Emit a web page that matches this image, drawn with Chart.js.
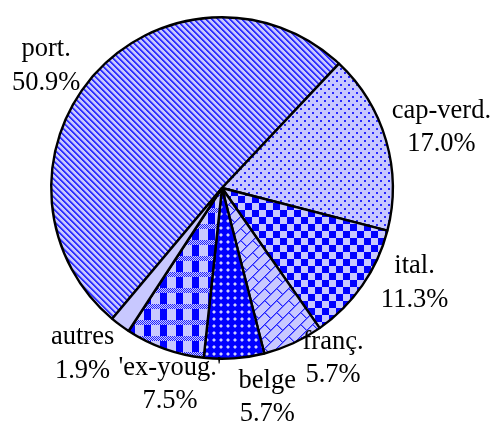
<!DOCTYPE html>
<html>
<head>
<meta charset="utf-8">
<script src="https://cdn.jsdelivr.net/npm/chart.js@4.4.1/dist/chart.umd.min.js"></script>
<style>
  html, body { margin: 0; padding: 0; background: #fff; }
  canvas { display: block; }
</style>
</head>
<body>
<canvas id="pie" width="498" height="427"></canvas>
<script>
// nationalités - parts en %
const categories = ['port.', 'cap-verd.', 'ital.', 'franç.', 'belge', "'ex-youg.'", 'autres'];
const shares = [50.9, 17.0, 11.3, 5.7, 5.7, 7.5, 1.9];
const pctLabels = ['50.9%', '17.0%', '11.3%', '5.7%', '5.7%', '7.5%', '1.9%'];

const LIGHT = '#c8c8ff';
const BLUE = '#0000ff';

// small tile painter: fn(x,y) returns a colour or null (=light bg)
function makePattern(w, h, fn){
  const c = document.createElement('canvas');
  c.width = w; c.height = h;
  const g = c.getContext('2d');
  g.fillStyle = LIGHT; g.fillRect(0,0,w,h);
  for(let y=0;y<h;y++) for(let x=0;x<w;x++){
    const col = fn(x,y);
    if(col){ g.fillStyle = col; g.fillRect(x,y,1,1); }
  }
  return g.createPattern(c, 'repeat');
}

const ctx = document.getElementById('pie').getContext('2d');

const fills = [
  // port. : fine "\" stripes
  makePattern(6, 6, (x,y)=>{ const m=((x-y)%6+6)%6; return (m===0||m===1) ? '#3030ff' : (m===2 ? '#8080ff' : null); }),
  // cap-verd. : staggered dots
  makePattern(8, 8, (x,y)=>{
    const a = (x<2&&y<2) || (x>=4&&x<6&&y>=4&&y<6);
    return a ? '#2828ff' : null;
  }),
  // ital. : checkerboard
  makePattern(14, 14, (x,y)=> ((x<7)===(y<7)) ? BLUE : null),
  // franç. : diagonal bricks
  makePattern(24, 24, (x,y)=>{
    const u = x+y, v = ((x-y)%24+24)%24;
    if(u%12===0) return '#2020ff';
    if(u%12===1) return '#7070ff';
    const k = Math.floor(u/12)%2;
    const off = k ? 12 : 0;
    if(v===off) return '#2020ff';
    if(v===off+1) return '#8080ff';
    return null;
  }),
  // belge : blue with light dots
  makePattern(7, 7, (x,y)=>{
    if(x>=3&&x<5&&y>=3&&y<5) return '#d0d0ff';
    if(x>=2&&x<6&&y>=2&&y<6 && (x===2||x===5) !== (y===2||y===5)) return '#6060ff';
    return BLUE;
  }),
  // 'ex-youg.' : gingham / plaid
  makePattern(16, 16, (x,y)=>{
    if(y<5) return ((x+y)%2===0) ? '#2020ff' : null;
    if(x<7) return BLUE;
    return null;
  }),
  // autres : plain light
  LIGHT
];

// label offsets (px) relative to the arc mid-point
const labelNudge = [[-16,18],[14,-3],[17,-29],[22,-26],[30,-6],[20,-7],[-12,-8]];

const sliceLabels = {
  id: 'sliceLabels',
  afterDatasetsDraw(chart){
    const c = chart.ctx;
    const meta = chart.getDatasetMeta(0);
    c.save();
    c.font = '26.5px "Liberation Serif", "Times New Roman", serif';
    c.fillStyle = '#000';
    c.textAlign = 'center';
    c.textBaseline = 'alphabetic';
    meta.data.forEach((arc, i)=>{
      const p = arc.getProps(['x','y','startAngle','endAngle','outerRadius'], true);
      const mid = (p.startAngle + p.endAngle)/2;
      const R = p.outerRadius + 43;
      const cx = p.x + Math.cos(mid)*R + labelNudge[i][0];
      const cy = p.y + Math.sin(mid)*R + labelNudge[i][1];
      c.fillText(categories[i], cx, cy - 7.5);
      c.fillText(pctLabels[i], cx, cy + 26);
    });
    c.restore();
  }
};

new Chart(ctx, {
  type: 'pie',
  data: {
    labels: categories,
    datasets: [{
      data: shares,
      backgroundColor: fills,
      borderColor: '#000',
      borderWidth: 2.4
    }]
  },
  options: {
    responsive: false,
    animation: false,
    rotation: -140,
    layout: { padding: { left: 50, right: 104, top: 16, bottom: 67 } },
    plugins: { legend: { display: false }, tooltip: { enabled: false } },
    events: []
  },
  plugins: [sliceLabels]
});
</script>
</body>
</html>
